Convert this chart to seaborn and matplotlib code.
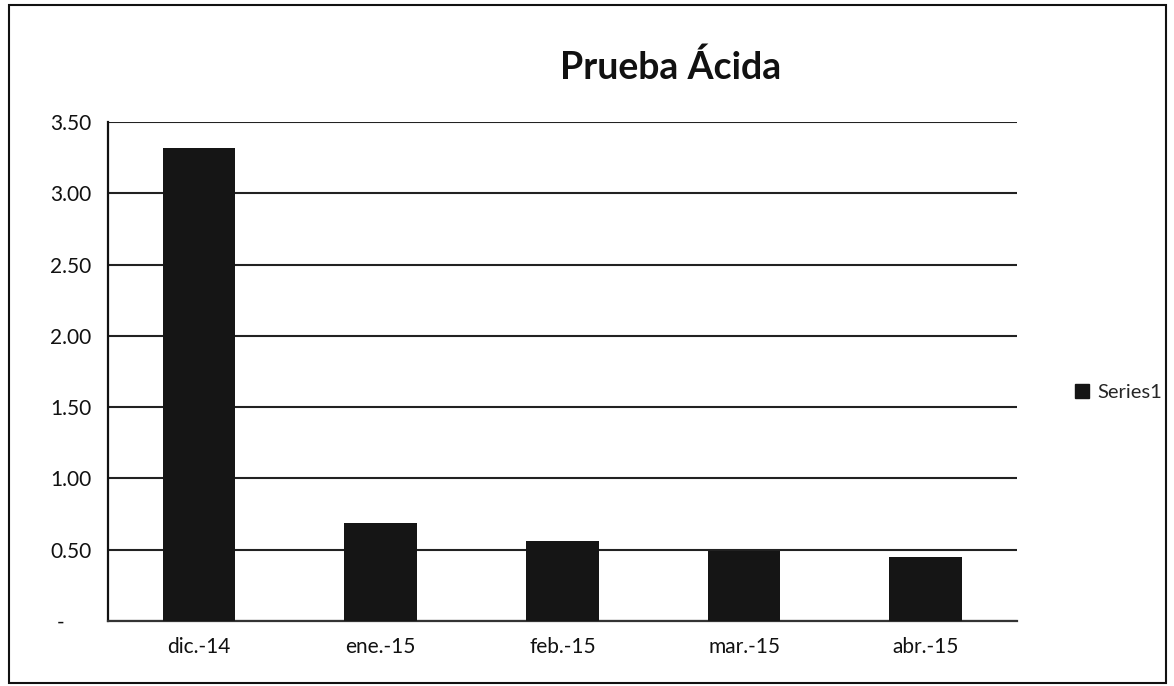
import pandas as pd
import seaborn as sns
import matplotlib.pyplot as plt
from matplotlib.patches import Rectangle, Patch

# Data
months = ["dic.-14", "ene.-15", "feb.-15", "mar.-15", "abr.-15"]
ratio = [3.32, 0.69, 0.56, 0.49, 0.45]
series_name = "Series1"

df = pd.DataFrame({"mes": months, "valor": ratio})

sns.set_style("white")
plt.rcParams["font.family"] = ["Lato", "DejaVu Sans"]

fig = plt.figure(figsize=(11.74, 6.86), dpi=100)
ax = fig.add_axes([0.092, 0.095, 0.774, 0.727])

sns.barplot(data=df, x="mes", y="valor", color="#151515", width=0.4,
            saturation=1, edgecolor="#151515", linewidth=0, ax=ax, zorder=3)

# y axis (accounting style: zero shown as a dash)
ax.set_ylim(0, 3.5)
ticks = [0, 0.5, 1.0, 1.5, 2.0, 2.5, 3.0, 3.5]
ax.set_yticks(ticks)
ax.set_yticklabels(["-     "] + [f"{t:.2f}" for t in ticks[1:]])
ax.yaxis.grid(True, color="#222222", linewidth=1.5, zorder=0)
ax.set_axisbelow(True)
ax.set_xlabel("")
ax.set_ylabel("")
ax.tick_params(axis="both", labelsize=15, length=0, labelcolor="#111111")
ax.tick_params(axis="x", pad=12)
ax.tick_params(axis="y", pad=12)

for side in ["top", "right"]:
    ax.spines[side].set_visible(False)
ax.spines["left"].set_color("#111111")
ax.spines["left"].set_linewidth(1.6)
ax.spines["bottom"].set_color("#333333")
ax.spines["bottom"].set_linewidth(1.6)

fig.text(0.571, 0.902, "Prueba Ácida", ha="center", va="center",
         fontsize=27, fontweight="bold", color="#111111")

# legend on the right
handle = Patch(facecolor="#151515", edgecolor="#151515")
fig.legend([handle], [series_name], loc="center left",
           bbox_to_anchor=(0.9, 0.428), frameon=False, fontsize=14.5,
           handlelength=0.7, handleheight=0.7, handletextpad=0.4)

# outer chart border
fig.patches.append(Rectangle((0.008, 0.005), 0.985, 0.988, transform=fig.transFigure,
                             fill=False, edgecolor="#111111", linewidth=1.5))

fig.savefig("out.png", dpi=100)
